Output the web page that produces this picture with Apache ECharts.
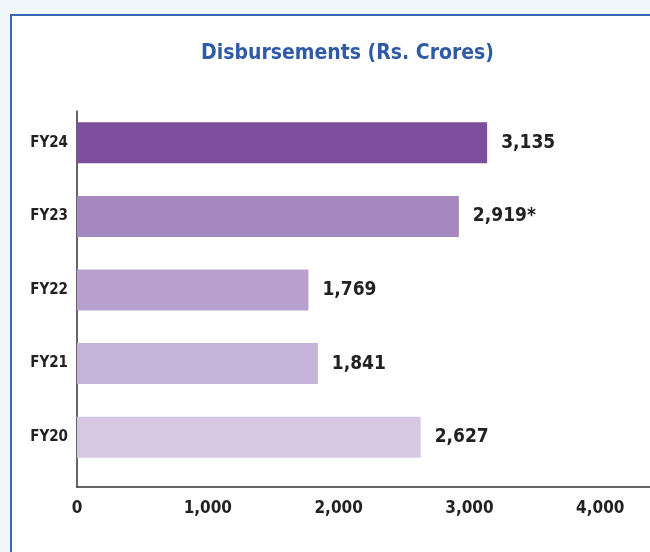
<!DOCTYPE html>
<html>
<head>
<meta charset="utf-8">
<script src="https://cdn.jsdelivr.net/npm/echarts@6/dist/echarts.min.js"></script>
<style>
	html, body { margin: 0; padding: 0; }
	body { width: 650px; height: 552px; overflow: hidden; background: #f1f6fa; position: relative; }
	.card { position: absolute; left: 10px; top: 14px; width: 700px; height: 600px; background: #fff;
		border-top: 2px solid #3a69b1; border-left: 2px solid #3a69b1; }
	#main { position: absolute; left: 0; top: 0; width: 650px; height: 552px; }
</style>
</head>
<body>
<div class="card"></div>
<div id="main"></div>
<script>
	var years = ['FY20', 'FY21', 'FY22', 'FY23', 'FY24'];
	var disbursements = [2627, 1841, 1769, 2919, 3135];
	var notes = ['', '', '', '*', ''];
	var barColors = ['#d6c8e3', '#c6b3d9', '#b7a0cd', '#a688c0', '#7d4f9c'];
	var xTicks = [0, 1000, 2000, 3000, 4000];

	var font = "'Liberation Sans Narrow', 'DejaVu Sans Condensed', 'Roboto', sans-serif";
	var myChart = echarts.init(document.getElementById('main'));

	var option = {
		animation: false,
		title: {
			text: 'Disbursements (Rs. Crores)',
			left: 196,
			top: 38,
			textStyle: { color: '#2f5aa6', fontSize: 21, fontWeight: 'bold', fontFamily: font }
		},
		grid: [
			{ left: 77, right: 0, top: 106, height: 368 },
			{ left: 77, right: 0, top: 111, bottom: 65 }
		],
		xAxis: [
			{
				type: 'value', gridIndex: 0, min: 0, max: 4380,
				show: false
			},
			{
				type: 'value', gridIndex: 1, min: 0, max: 4380, interval: 1000,
				axisLine: { show: true, lineStyle: { color: '#333', width: 1.5 } },
				axisTick: { show: false },
				splitLine: { show: false },
				axisLabel: {
					margin: 13,
					color: '#222', fontSize: 17, fontWeight: 'bold', fontFamily: font,
					showMaxLabel: false,
					formatter: function (v) {
						return xTicks.indexOf(v) >= 0 ? v.toLocaleString('en-US') : '';
					}
				}
			}
		],
		yAxis: [
			{
				type: 'category', gridIndex: 0, data: years,
				axisLine: { show: false },
				axisTick: { show: false },
				axisLabel: { margin: 9, color: '#222', fontSize: 15, fontWeight: 'bold', fontFamily: font }
			},
			{
				type: 'value', gridIndex: 1, min: 0, max: 1,
				axisLine: { show: true, lineStyle: { color: '#333', width: 1.5 } },
				axisTick: { show: false },
				axisLabel: { show: false },
				splitLine: { show: false }
			}
		],
		series: [
			{
				type: 'bar',
				xAxisIndex: 0,
				yAxisIndex: 0,
				barWidth: 41,
				data: disbursements.map(function (v, i) {
					return { value: v, itemStyle: { color: barColors[i] } };
				}),
				label: {
					show: true,
					position: 'right',
					distance: 14,
					color: '#222',
					fontSize: 19,
					fontWeight: 'bold',
					fontFamily: font,
					formatter: function (p) {
						return p.value.toLocaleString('en-US') + notes[p.dataIndex];
					}
				}
			}
		]
	};
	myChart.setOption(option);
	window.addEventListener('resize', function () {
		myChart.resize();
	});
</script>
</body>
</html>
